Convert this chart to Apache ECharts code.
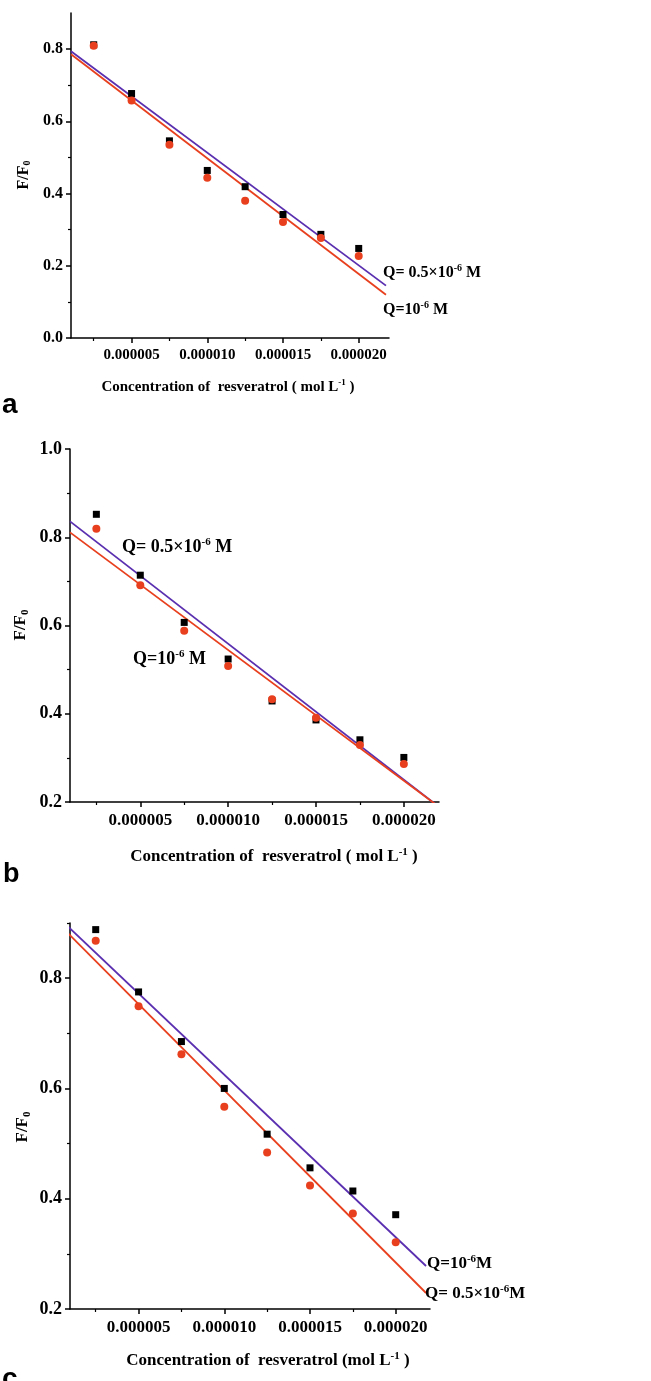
<!DOCTYPE html>
<html>
<head>
<meta charset="utf-8">
<script src="https://cdn.jsdelivr.net/npm/echarts@6/dist/echarts.min.js"></script>
<style>
html,body{margin:0;padding:0;background:#fff;}
#chart{width:651px;height:1381px;}
</style>
</head>
<body>
<div id="chart"></div>
<script>
// ---- data ----
var concentration = [2.5e-6, 5e-6, 7.5e-6, 10e-6, 12.5e-6, 15e-6, 17.5e-6, 20e-6];
var xTickLabels = [5e-6, 10e-6, 15e-6, 20e-6];
var xMinorTicks = [2.5e-6, 7.5e-6, 12.5e-6, 17.5e-6];
var aYTicks = [0, 0.2, 0.4, 0.6, 0.8];
var aYMinor = [0.1, 0.3, 0.5, 0.7];
var bYTicks = [0.2, 0.4, 0.6, 0.8, 1.0];
var bYMinor = [0.3, 0.5, 0.7, 0.9];
var cYTicks = [0.2, 0.4, 0.6, 0.8];
var cYMinor = [0.3, 0.5, 0.7, 0.9];

// panel a
var aSquares = [0.812, 0.677, 0.546, 0.464, 0.419, 0.342, 0.287, 0.248];
var aCircles = [0.809, 0.658, 0.535, 0.444, 0.380, 0.321, 0.277, 0.227];
var aLineX = [1e-6, 21.8e-6];
var aPurpleY = [0.794, 0.145];
var aRedY = [0.786, 0.120];

// panel b
var bSquares = [0.852, 0.714, 0.607, 0.524, 0.429, 0.386, 0.341, 0.301];
var bCircles = [0.819, 0.691, 0.588, 0.508, 0.433, 0.391, 0.329, 0.286];
var bLineX = [1e-6, 21.8e-6];
var bPurpleY = [0.836, 0.195];
var bRedY = [0.811, 0.195];

// panel c
var cSquares = [0.888, 0.775, 0.685, 0.600, 0.517, 0.456, 0.414, 0.371];
var cCircles = [0.868, 0.749, 0.662, 0.567, 0.484, 0.424, 0.373, 0.321];
var cLineX = [0.8e-6, 21.77e-6];
var cPurpleY = [0.896, 0.278];
var cRedY = [0.884, 0.229];

// ---- styles ----
var SERIF = '"Liberation Serif","Times New Roman",serif';
var SANS = '"Liberation Sans",Arial,sans-serif';
var PURPLE = '#5a2fb0';
var RED = '#e8401e';

function pairs(xs, ys) { return xs.map(function (x, i) { return [x, ys[i]]; }); }

var grids = [
  {left: 71, top: 13, width: 318, height: 325},
  {left: 70, top: 449, width: 369, height: 353},
  {left: 70, top: 923, width: 360, height: 386}
];
var yCfg = [
  {min: 0, max: 0.9, fs: 16, ticks: aYTicks, minor: aYMinor},
  {min: 0.2, max: 1.0, fs: 18, ticks: bYTicks, minor: bYMinor},
  {min: 0.2, max: 0.9, fs: 18, ticks: cYTicks, minor: cYMinor}
];
var xFs = [15, 17, 17];

var xAxes = [], yAxes = [], series = [];
var panels = [
  {sq: aSquares, ci: aCircles, lx: aLineX, py: aPurpleY, ry: aRedY, clip: true},
  {sq: bSquares, ci: bCircles, lx: bLineX, py: bPurpleY, ry: bRedY, clip: true},
  {sq: cSquares, ci: cCircles, lx: cLineX, py: cPurpleY, ry: cRedY, clip: false}
];

panels.forEach(function (p, i) {
  xAxes.push({
    type: 'value', gridIndex: i, min: 1e-6, max: 22e-6, position: 'bottom',
    axisLine: {onZero: false, lineStyle: {color: '#000', width: 1.5}},
    axisTick: {show: true, inside: false, length: 5, customValues: xTickLabels, lineStyle: {color: '#000', width: 1.5}},
    axisLabel: {customValues: xTickLabels, margin: 10, color: '#000', fontFamily: SERIF, fontWeight: 'bold', fontSize: xFs[i],
      formatter: function (v) { return v.toFixed(6); }},
    splitLine: {show: false}
  });
  xAxes.push({
    type: 'value', gridIndex: i, min: 1e-6, max: 22e-6, position: 'bottom',
    axisLine: {show: false, onZero: false},
    axisTick: {show: true, inside: false, length: 3, customValues: xMinorTicks, lineStyle: {color: '#000', width: 1.2}},
    axisLabel: {show: false},
    splitLine: {show: false}
  });
  yAxes.push({
    type: 'value', gridIndex: i, min: yCfg[i].min, max: yCfg[i].max, position: 'left',
    axisLine: {show: true, onZero: false, lineStyle: {color: '#000', width: 1.5}},
    axisTick: {show: true, inside: false, length: 5, customValues: yCfg[i].ticks, lineStyle: {color: '#000', width: 1.5}},
    axisLabel: {customValues: yCfg[i].ticks, margin: 8, color: '#000', fontFamily: SERIF, fontWeight: 'bold', fontSize: yCfg[i].fs,
      formatter: function (v) { return v.toFixed(1); }},
    splitLine: {show: false}
  });
  yAxes.push({
    type: 'value', gridIndex: i, min: yCfg[i].min, max: yCfg[i].max, position: 'left',
    axisLine: {show: false, onZero: false},
    axisTick: {show: true, inside: false, length: 3, customValues: yCfg[i].minor, lineStyle: {color: '#000', width: 1.2}},
    axisLabel: {show: false},
    splitLine: {show: false}
  });
  var xi = i * 2, yi = i * 2;
  series.push({type: 'line', xAxisIndex: xi, yAxisIndex: yi, data: pairs(p.lx, p.py), symbol: 'none', clip: p.clip,
    lineStyle: {color: PURPLE, width: 1.8}, silent: true, z: 2});
  series.push({type: 'line', xAxisIndex: xi, yAxisIndex: yi, data: pairs(p.lx, p.ry), symbol: 'none', clip: p.clip,
    lineStyle: {color: RED, width: 1.8}, silent: true, z: 2});
  series.push({type: 'scatter', xAxisIndex: xi, yAxisIndex: yi, data: pairs(concentration, p.sq), symbol: 'rect',
    symbolSize: 7, itemStyle: {color: '#000', opacity: 1}, z: 3});
  series.push({type: 'scatter', xAxisIndex: xi, yAxisIndex: yi, data: pairs(concentration, p.ci), symbol: 'circle',
    symbolSize: 8, itemStyle: {color: RED, opacity: 1}, z: 4});
});

function rt(fs) {
  return {
    t: {fontFamily: SERIF, fontWeight: 'bold', fontSize: fs, fill: '#000', lineHeight: fs + 4},
    s: {fontFamily: SERIF, fontWeight: 'bold', fontSize: Math.round(fs * 0.62), fill: '#000', padding: [0, 0, Math.round(fs * 0.55), 0], lineHeight: fs + 4},
    d: {fontFamily: SERIF, fontWeight: 'bold', fontSize: Math.round(fs * 0.62), fill: '#000', padding: [Math.round(fs * 0.45), 0, 0, 0], lineHeight: fs + 4}
  };
}
function txt(x, y, text, fs, align, rot) {
  var el = {type: 'text', x: x, y: y, style: {text: text, rich: rt(fs), align: align || 'left', verticalAlign: 'middle'}, z: 10};
  if (rot) { el.rotation = rot; }
  return el;
}
function letter(x, y, ch, fs) {
  return {type: 'text', x: x, y: y, style: {text: ch, font: 'bold ' + fs + 'px ' + SANS, fill: '#000', verticalAlign: 'middle'}, z: 10};
}

var graphics = [
  // panel a
  txt(383, 273, '{t|Q= 0.5×10}{s|-6}{t| M}', 16),
  txt(383, 310, '{t|Q=10}{s|-6}{t| M}', 16),
  txt(228, 387, '{t|Concentration of  resveratrol ( mol L}{s|-1}{t| )}', 15, 'center'),
  txt(24, 175, '{t|F/F}{d|0}', 16, 'center', Math.PI / 2),
  letter(2, 405, 'a', 28),
  // panel b
  txt(122, 547, '{t|Q= 0.5×10}{s|-6}{t| M}', 18),
  txt(133, 659, '{t|Q=10}{s|-6}{t| M}', 18),
  txt(274, 857, '{t|Concentration of  resveratrol ( mol L}{s|-1}{t| )}', 17, 'center'),
  txt(21, 625, '{t|F/F}{d|0}', 17, 'center', Math.PI / 2),
  letter(3, 875, 'b', 27),
  // panel c
  txt(427, 1264, '{t|Q=10}{s|-6}{t|M}', 17),
  txt(425, 1294, '{t|Q= 0.5×10}{s|-6}{t|M}', 17),
  txt(268, 1361, '{t|Concentration of  resveratrol (mol L}{s|-1}{t| )}', 17, 'center'),
  txt(23, 1127, '{t|F/F}{d|0}', 17, 'center', Math.PI / 2),
  letter(2, 1379, 'c', 28)
];

var chart = echarts.init(document.getElementById('chart'), null, {renderer: 'canvas'});
chart.setOption({
  animation: false,
  backgroundColor: '#fff',
  grid: grids,
  xAxis: xAxes,
  yAxis: yAxes,
  series: series,
  graphic: graphics
});
</script>
</body>
</html>
